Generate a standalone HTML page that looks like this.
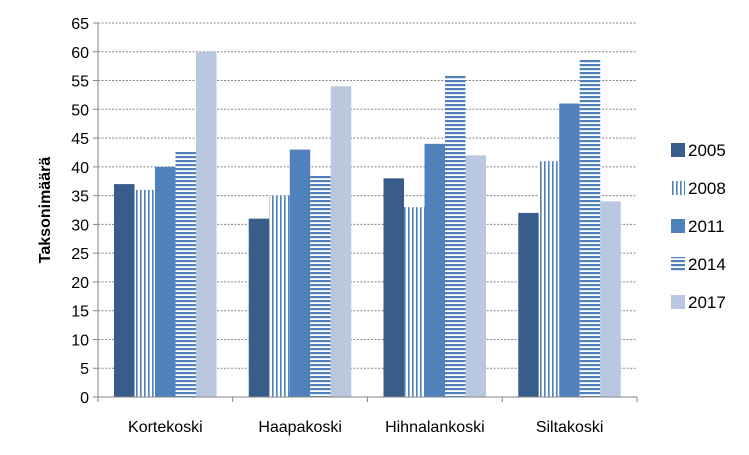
<!DOCTYPE html>
<html><head><meta charset="utf-8"><style>
body{margin:0;background:#fff;font-family:"Liberation Sans",sans-serif}
</style></head><body>
<svg id="c" width="749" height="450" xmlns="http://www.w3.org/2000/svg">
<defs>
<pattern id="vert" width="4" height="4" patternUnits="userSpaceOnUse"><rect width="4" height="4" fill="#fff"/><rect width="1.6" height="4" fill="#4F81BD"/></pattern>
<pattern id="horz" width="4" height="4" patternUnits="userSpaceOnUse"><rect width="4" height="4" fill="#fff"/><rect width="4" height="2.2" fill="#4F81BD"/></pattern>
</defs>
<g id="grid"></g><g id="bars"></g><g id="axes"></g><g id="legend"></g>
<text x="50" y="210" transform="rotate(-90 50 210)" text-anchor="middle" font-size="16" font-weight="bold" fill="#000">Taksonimäärä</text>
</svg>
<script>
const categories=["Kortekoski","Haapakoski","Hihnalankoski","Siltakoski"];
const seriesNames=["2005","2008","2011","2014","2017"];
const s2005=[37,31,38,32];
const s2008=[36,35,33,41];
const s2011=[40,43,44,51];
const s2014=[42.7,38.5,56,58.7];
const s2017=[60,54,42,34];
const yTicks=[0,5,10,15,20,25,30,35,40,45,50,55,60,65];
const series=[s2005,s2008,s2011,s2014,s2017];
const fills=["#385D8A","url(#vert)","#4F81BD","url(#horz)","#B9C8E0"];
const NS="http://www.w3.org/2000/svg";
const x0=98,x1=637,y0=397,yTop=23,yMax=65;
const y=v=>y0-(v/yMax)*(y0-yTop);
const cw=(x1-x0)/categories.length, bw=20.5, off=16;
function mk(t,a,p){const e=document.createElementNS(NS,t);for(const k in a)e.setAttribute(k,a[k]);p.appendChild(e);return e;}
const grid=document.getElementById('grid'),axes=document.getElementById('axes'),bars=document.getElementById('bars'),leg=document.getElementById('legend');
yTicks.forEach(t=>{
 if(t>0){const l=mk('line',{x1:x0,x2:x1,y1:y(t),y2:y(t),stroke:'#888','stroke-dasharray':'2,1.5','stroke-width':1},grid);
 }
 mk('line',{x1:x0-5,x2:x0,y1:y(t),y2:y(t),stroke:'#868686'},axes);
 const tx=mk('text',{x:x0-9,y:y(t)+6,'text-anchor':'end','font-size':16,fill:'#000'},axes);tx.textContent=t;
 
});
mk('line',{x1:x0,x2:x0,y1:yTop,y2:y0,stroke:'#868686'},axes);
mk('line',{x1:x0,x2:x1,y1:y0,y2:y0,stroke:'#868686'},axes);
categories.forEach((c,i)=>{
 const gx=x0+i*cw;
 mk('line',{x1:gx+cw,x2:gx+cw,y1:y0,y2:y0+5,stroke:'#868686'},axes);
 if(i==0)mk('line',{x1:gx,x2:gx,y1:y0,y2:y0+5,stroke:'#868686'},axes);
 const t=mk('text',{x:gx+cw/2,y:432,'text-anchor':'middle','font-size':16,fill:'#000'},axes);t.textContent=c;
 
 series.forEach((s,j)=>{
  const r=mk('rect',{x:gx+off+j*bw,y:y(s[i]),width:bw,height:y0-y(s[i]),fill:fills[j]},bars);
  
  
 });
});
seriesNames.forEach((n,j)=>{
 const cy=150+j*38;
 const g=mk('g',{},leg);
 
 
 mk('rect',{x:671,y:cy-7,width:14,height:14,fill:fills[j]},g);
 const t=mk('text',{x:688,y:cy+6,'font-size':17,fill:'#000'},g);t.textContent=n;
});
</script>
</body></html>
